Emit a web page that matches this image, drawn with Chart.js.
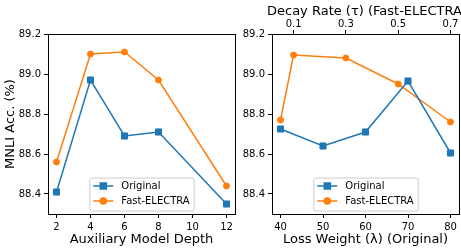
<!DOCTYPE html>
<html lang="en">
<head>
<meta charset="UTF-8">
<title>MNLI ablation</title>
<script src="https://cdn.jsdelivr.net/npm/chart.js"></script>
<style>
  html, body { margin: 0; padding: 0; background: #fff; }
  body { width: 461px; height: 248px; position: relative; overflow: hidden; }
  .panel { position: absolute; top: 0; height: 248px; }
  #izq { left: 0; width: 240px; }
  #der { left: 240px; width: 221px; }
</style>
</head>
<body>
<div class="panel" id="izq"><canvas id="chartDepth" width="240" height="248"></canvas></div>
<div class="panel" id="der"><canvas id="chartWeight" width="221" height="248"></canvas></div>
<script>
  // left panel: auxiliary model depth
  const depths = [2, 4, 6, 8, 12];
  const depthOriginal = [88.41, 88.97, 88.69, 88.71, 88.35];
  const depthFast = [88.56, 89.10, 89.11, 88.97, 88.44];

  // right panel: loss weight (bottom axis) and decay rate (top axis)
  const lossWeights = [40, 50, 60, 70, 80];
  const weightOriginal = [88.725, 88.64, 88.71, 88.965, 88.605];
  const decayRates = [0.05, 0.1, 0.3, 0.5, 0.7];
  const decayFast = [88.77, 89.095, 89.08, 88.95, 88.76];

  const depthTicks = [2, 4, 6, 8, 10, 12];
  const weightTicks = [40, 50, 60, 70, 80];
  const decayTicks = [0.1, 0.3, 0.5, 0.7];
  const accTicks = [88.4, 88.6, 88.8, 89.0, 89.2];

  const AZUL = '#1f77b4';
  const NARANJA = '#ff7f0e';
  const FAMILIA = "'DejaVu Sans', sans-serif";
  const fuenteTick = { family: FAMILIA, size: 10 };
  const fuenteTitulo = { family: FAMILIA, size: 13 };

  function serie(label, xs, ys, color, forma, ejeX) {
    return {
      label: label,
      data: xs.map((x, i) => ({ x: x, y: ys[i] })),
      xAxisID: ejeX,
      borderColor: color,
      backgroundColor: color,
      borderWidth: 1.5,
      pointStyle: forma,
      pointRadius: forma === 'rect' ? 4.3 : 3,
      pointBorderWidth: 1,
      pointHoverRadius: 0,
      tension: 0
    };
  }

  function ejeX(min, max, valores, pos, titulo, alto, decimales) {
    return {
      type: 'linear', position: pos, min: min, max: max,
      afterBuildTicks: s => { s.ticks = valores.map(v => ({ value: v })); },
      afterFit: s => { s.height = alto; s.paddingLeft = 0; s.paddingRight = 0; },
      ticks: {
        font: fuenteTick, color: '#000', padding: pos === 'top' ? 0 : 3, autoSkip: false, maxRotation: 0,
        callback: v => decimales ? v.toFixed(decimales) : String(v)
      },
      grid: { drawOnChartArea: false, drawTicks: true, tickLength: 4, color: '#000' },
      border: { display: false },
      // el título superior se dibuja aparte (Chart.js lo comprime al ancho del eje)
      title: { display: pos === 'bottom', text: titulo, font: fuenteTitulo, color: '#000', padding: { top: 0, bottom: 1 } }
    };
  }

  function ejeY(ancho, conTitulo) {
    return {
      type: 'linear', min: 88.3, max: 89.2,
      afterBuildTicks: s => { s.ticks = accTicks.map(v => ({ value: v })); },
      afterFit: s => { s.width = ancho; s.paddingTop = 0; s.paddingBottom = 0; },
      ticks: { font: fuenteTick, color: '#000', padding: 3, callback: v => v.toFixed(1) },
      grid: { drawOnChartArea: false, drawTicks: true, tickLength: 4, color: '#000' },
      border: { display: false },
      title: { display: conTitulo, text: 'MNLI Acc. (%)', font: fuenteTitulo, color: '#000', padding: { top: 3, bottom: 0 } }
    };
  }

  // marco del área de datos y leyenda estilo matplotlib
  const marcoYLeyenda = {
    id: 'marcoYLeyenda',
    afterDraw(chart) {
      const ctx = chart.ctx;
      const a = chart.chartArea;
      ctx.save();
      ctx.strokeStyle = '#000';
      ctx.lineWidth = 1;
      ctx.strokeRect(Math.round(a.left) + 0.5, Math.round(a.top) + 0.5,
        Math.round(a.right - a.left), Math.round(a.bottom - a.top));

      const sup = chart.scales.xTop;
      if (sup) {
        ctx.font = '13px ' + FAMILIA;
        ctx.fillStyle = '#000';
        ctx.textAlign = 'center';
        ctx.textBaseline = 'middle';
        ctx.fillText(sup.options.title.text, (sup.left + sup.right) / 2 + 1.5, 12);
      }

      ctx.font = '10px ' + FAMILIA;
      const anchoTexto = Math.max(...chart.data.datasets.map(d => ctx.measureText(d.label).width));
      const w = 4 + 20 + 8 + anchoTexto + 4;
      const h = 33;
      const x0 = (a.left + a.right) / 2 - w / 2;
      const y0 = a.bottom - 3.5 - h;
      ctx.beginPath();
      ctx.roundRect(x0 + 0.5, y0 + 0.5, w, h, 2);
      ctx.fillStyle = 'rgba(255,255,255,0.8)';
      ctx.fill();
      ctx.strokeStyle = '#cccccc';
      ctx.lineWidth = 1;
      ctx.stroke();

      chart.data.datasets.forEach((d, i) => {
        const cy = y0 + 8.5 + i * 15;
        ctx.strokeStyle = d.borderColor;
        ctx.lineWidth = 1.5;
        ctx.beginPath();
        ctx.moveTo(x0 + 4, cy);
        ctx.lineTo(x0 + 24, cy);
        ctx.stroke();
        Chart.helpers.drawPoint(ctx, {
          pointStyle: d.pointStyle, radius: d.pointRadius, borderWidth: 1, rotation: 0
        }, x0 + 14, cy);
        ctx.fillStyle = d.borderColor;
        ctx.fill();
        ctx.fillStyle = '#000';
        ctx.textBaseline = 'middle';
        ctx.textAlign = 'left';
        ctx.fillText(d.label, x0 + 32, cy + 0.5);
      });
      ctx.restore();
    }
  };

  const comunes = {
    responsive: false,
    animation: false,
    devicePixelRatio: 1,
    plugins: { legend: { display: false }, tooltip: { enabled: false } },
    events: []
  };

  new Chart(document.getElementById('chartDepth'), {
    type: 'line',
    data: {
      datasets: [
        serie('Original', depths, depthOriginal, AZUL, 'rect', 'x'),
        serie('Fast-ELECTRA', depths, depthFast, NARANJA, 'circle', 'x')
      ]
    },
    options: Object.assign({}, comunes, {
      layout: { autoPadding: false, padding: { left: 0, right: 5, top: 34, bottom: 0 } },
      scales: {
        x: ejeX(1.5, 12.5, depthTicks, 'bottom', 'Auxiliary Model Depth', 34, 0),
        y: ejeY(48, true)
      }
    }),
    plugins: [marcoYLeyenda]
  });

  new Chart(document.getElementById('chartWeight'), {
    type: 'line',
    data: {
      datasets: [
        serie('Original', lossWeights, weightOriginal, AZUL, 'rect', 'x'),
        serie('Fast-ELECTRA', decayRates, decayFast, NARANJA, 'circle', 'xTop')
      ]
    },
    options: Object.assign({}, comunes, {
      layout: { autoPadding: false, padding: { left: 0, right: 2, top: 0, bottom: 0 } },
      scales: {
        x: ejeX(38, 82, weightTicks, 'bottom', 'Loss Weight (\u03bb) (Original)', 34, 0),
        xTop: ejeX(0.0175, 0.7325, decayTicks, 'top', 'Decay Rate (\u03c4) (Fast-ELECTRA)', 34, 1),
        y: ejeY(32, false)
      }
    }),
    plugins: [marcoYLeyenda]
  });
</script>
</body>
</html>
